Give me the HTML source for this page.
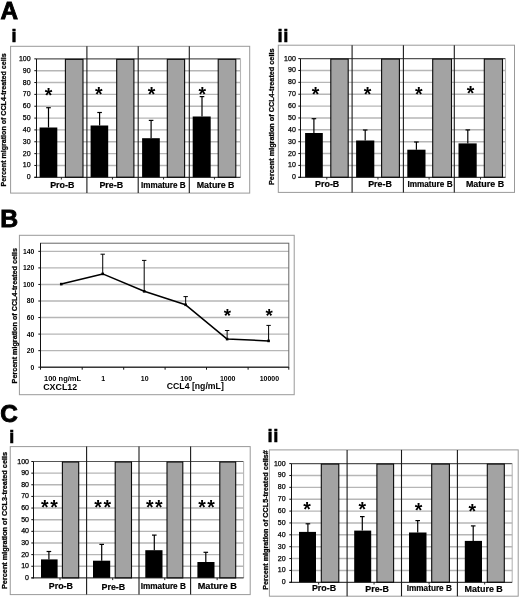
<!DOCTYPE html>
<html><head><meta charset="utf-8"><style>
html,body{margin:0;padding:0;background:#fff;width:520px;height:598px;overflow:hidden}
svg text{font-family:'Liberation Sans', sans-serif;fill:#000}
</style></head><body>
<svg width="520" height="598" viewBox="0 0 520 598" style="position:absolute;left:0;top:0;will-change:transform;filter:blur(0.35px);font-family:'Liberation Sans',sans-serif">
<rect width="520" height="598" fill="#fff"/>
<text x="0.50" y="19.00" font-size="24.3" font-weight="bold" text-anchor="start" stroke="#000" stroke-width="0.9">A</text>
<text x="0.30" y="227.10" font-size="24.8" font-weight="bold" text-anchor="start" stroke="#000" stroke-width="0.9">B</text>
<text x="0.30" y="421.90" font-size="24.3" font-weight="bold" text-anchor="start" stroke="#000" stroke-width="0.9">C</text>
<text x="11.40" y="41.60" font-size="18" font-weight="bold" text-anchor="start" stroke="#000" stroke-width="0.6">i</text>
<text x="277.40" y="41.60" font-size="18.5" font-weight="bold" text-anchor="start" letter-spacing="0.6" stroke="#000" stroke-width="0.5">ii</text>
<text x="9.20" y="442.90" font-size="18" font-weight="bold" text-anchor="start" stroke="#000" stroke-width="0.6">i</text>
<text x="267.60" y="442.00" font-size="18.5" font-weight="bold" text-anchor="start" letter-spacing="0.6" stroke="#000" stroke-width="0.5">ii</text>
<rect x="10.60" y="46.30" width="239.10" height="146.80" fill="#fff" stroke="#999" stroke-width="1"/>
<line x1="36.50" y1="165.46" x2="240.50" y2="165.46" stroke="#b6b6b6" stroke-width="1.4"/>
<line x1="36.50" y1="153.61" x2="240.50" y2="153.61" stroke="#b6b6b6" stroke-width="1.4"/>
<line x1="36.50" y1="141.76" x2="240.50" y2="141.76" stroke="#b6b6b6" stroke-width="1.4"/>
<line x1="36.50" y1="129.92" x2="240.50" y2="129.92" stroke="#b6b6b6" stroke-width="1.4"/>
<line x1="36.50" y1="118.08" x2="240.50" y2="118.08" stroke="#b6b6b6" stroke-width="1.4"/>
<line x1="36.50" y1="106.23" x2="240.50" y2="106.23" stroke="#b6b6b6" stroke-width="1.4"/>
<line x1="36.50" y1="94.38" x2="240.50" y2="94.38" stroke="#b6b6b6" stroke-width="1.4"/>
<line x1="36.50" y1="82.54" x2="240.50" y2="82.54" stroke="#b6b6b6" stroke-width="1.4"/>
<line x1="36.50" y1="70.69" x2="240.50" y2="70.69" stroke="#b6b6b6" stroke-width="1.4"/>
<line x1="36.50" y1="58.85" x2="240.50" y2="58.85" stroke="#555" stroke-width="1.1"/>
<line x1="240.50" y1="58.85" x2="240.50" y2="177.30" stroke="#b6b6b6" stroke-width="1.1"/>
<line x1="34.30" y1="177.30" x2="36.50" y2="177.30" stroke="#111" stroke-width="1"/>
<text x="30.60" y="179.30" font-size="7" font-weight="normal" text-anchor="end" stroke="#000" stroke-width="0.25">0</text>
<line x1="34.30" y1="165.46" x2="36.50" y2="165.46" stroke="#111" stroke-width="1"/>
<text x="30.60" y="167.46" font-size="7" font-weight="normal" text-anchor="end" stroke="#000" stroke-width="0.25">10</text>
<line x1="34.30" y1="153.61" x2="36.50" y2="153.61" stroke="#111" stroke-width="1"/>
<text x="30.60" y="155.61" font-size="7" font-weight="normal" text-anchor="end" stroke="#000" stroke-width="0.25">20</text>
<line x1="34.30" y1="141.76" x2="36.50" y2="141.76" stroke="#111" stroke-width="1"/>
<text x="30.60" y="143.76" font-size="7" font-weight="normal" text-anchor="end" stroke="#000" stroke-width="0.25">30</text>
<line x1="34.30" y1="129.92" x2="36.50" y2="129.92" stroke="#111" stroke-width="1"/>
<text x="30.60" y="131.92" font-size="7" font-weight="normal" text-anchor="end" stroke="#000" stroke-width="0.25">40</text>
<line x1="34.30" y1="118.08" x2="36.50" y2="118.08" stroke="#111" stroke-width="1"/>
<text x="30.60" y="120.08" font-size="7" font-weight="normal" text-anchor="end" stroke="#000" stroke-width="0.25">50</text>
<line x1="34.30" y1="106.23" x2="36.50" y2="106.23" stroke="#111" stroke-width="1"/>
<text x="30.60" y="108.23" font-size="7" font-weight="normal" text-anchor="end" stroke="#000" stroke-width="0.25">60</text>
<line x1="34.30" y1="94.38" x2="36.50" y2="94.38" stroke="#111" stroke-width="1"/>
<text x="30.60" y="96.38" font-size="7" font-weight="normal" text-anchor="end" stroke="#000" stroke-width="0.25">70</text>
<line x1="34.30" y1="82.54" x2="36.50" y2="82.54" stroke="#111" stroke-width="1"/>
<text x="30.60" y="84.54" font-size="7" font-weight="normal" text-anchor="end" stroke="#000" stroke-width="0.25">80</text>
<line x1="34.30" y1="70.69" x2="36.50" y2="70.69" stroke="#111" stroke-width="1"/>
<text x="30.60" y="72.69" font-size="7" font-weight="normal" text-anchor="end" stroke="#000" stroke-width="0.25">90</text>
<line x1="34.30" y1="58.85" x2="36.50" y2="58.85" stroke="#111" stroke-width="1"/>
<text x="30.60" y="60.85" font-size="7" font-weight="normal" text-anchor="end" stroke="#000" stroke-width="0.25">100</text>
<rect x="39.60" y="127.50" width="17.70" height="49.80" fill="#000" stroke="none" stroke-width="1"/>
<line x1="48.50" y1="107.70" x2="48.50" y2="127.50" stroke="#000" stroke-width="1.2"/>
<line x1="46.20" y1="107.70" x2="50.80" y2="107.70" stroke="#000" stroke-width="1.2"/>
<rect x="65.40" y="59.35" width="17.60" height="117.95" fill="#a3a3a3" stroke="#0a0a0a" stroke-width="1.1"/>
<line x1="61.35" y1="177.30" x2="61.35" y2="179.50" stroke="#111" stroke-width="0.9"/>
<text x="48.50" y="101.57" font-size="19.47" font-weight="bold" text-anchor="middle">*</text>
<text x="62.30" y="188.30" font-size="8.8" font-weight="bold" text-anchor="middle" textLength="24.20" lengthAdjust="spacingAndGlyphs" stroke="#000" stroke-width="0.2">Pro-B</text>
<rect x="90.60" y="125.50" width="17.60" height="51.80" fill="#000" stroke="none" stroke-width="1"/>
<line x1="99.60" y1="112.50" x2="99.60" y2="125.50" stroke="#000" stroke-width="1.2"/>
<line x1="97.30" y1="112.50" x2="101.90" y2="112.50" stroke="#000" stroke-width="1.2"/>
<rect x="116.70" y="59.35" width="17.20" height="117.95" fill="#a3a3a3" stroke="#0a0a0a" stroke-width="1.1"/>
<line x1="112.45" y1="177.30" x2="112.45" y2="179.50" stroke="#111" stroke-width="0.9"/>
<text x="98.80" y="101.37" font-size="19.47" font-weight="bold" text-anchor="middle">*</text>
<text x="111.30" y="188.30" font-size="8.8" font-weight="bold" text-anchor="middle" textLength="23.70" lengthAdjust="spacingAndGlyphs" stroke="#000" stroke-width="0.2">Pre-B</text>
<rect x="142.10" y="138.20" width="17.70" height="39.10" fill="#000" stroke="none" stroke-width="1"/>
<line x1="151.10" y1="120.40" x2="151.10" y2="138.20" stroke="#000" stroke-width="1.2"/>
<line x1="148.80" y1="120.40" x2="153.40" y2="120.40" stroke="#000" stroke-width="1.2"/>
<rect x="167.30" y="59.35" width="17.30" height="117.95" fill="#a3a3a3" stroke="#0a0a0a" stroke-width="1.1"/>
<line x1="163.55" y1="177.30" x2="163.55" y2="179.50" stroke="#111" stroke-width="0.9"/>
<text x="151.60" y="100.77" font-size="19.47" font-weight="bold" text-anchor="middle">*</text>
<text x="163.30" y="188.30" font-size="8.8" font-weight="bold" text-anchor="middle" textLength="44.70" lengthAdjust="spacingAndGlyphs" stroke="#000" stroke-width="0.2">Immature B</text>
<rect x="192.70" y="116.50" width="18.00" height="60.80" fill="#000" stroke="none" stroke-width="1"/>
<line x1="202.00" y1="96.60" x2="202.00" y2="116.50" stroke="#000" stroke-width="1.2"/>
<line x1="199.70" y1="96.60" x2="204.30" y2="96.60" stroke="#000" stroke-width="1.2"/>
<rect x="218.20" y="59.35" width="17.60" height="117.95" fill="#a3a3a3" stroke="#0a0a0a" stroke-width="1.1"/>
<line x1="214.45" y1="177.30" x2="214.45" y2="179.50" stroke="#111" stroke-width="0.9"/>
<text x="202.40" y="101.27" font-size="19.47" font-weight="bold" text-anchor="middle">*</text>
<text x="215.60" y="188.30" font-size="8.8" font-weight="bold" text-anchor="middle" textLength="37.70" lengthAdjust="spacingAndGlyphs" stroke="#000" stroke-width="0.2">Mature B</text>
<line x1="36.50" y1="58.85" x2="36.50" y2="177.80" stroke="#111" stroke-width="1"/>
<line x1="34.30" y1="177.30" x2="240.50" y2="177.30" stroke="#111" stroke-width="1"/>
<line x1="86.90" y1="46.30" x2="86.90" y2="193.10" stroke="#1a1a1a" stroke-width="1.1"/>
<line x1="138.20" y1="46.30" x2="138.20" y2="193.10" stroke="#1a1a1a" stroke-width="1.1"/>
<line x1="189.30" y1="46.30" x2="189.30" y2="193.10" stroke="#1a1a1a" stroke-width="1.1"/>
<text transform="translate(6.16,119.95) rotate(-90)" x="0" y="0" font-size="7" font-weight="bold" text-anchor="middle" textLength="133.10" lengthAdjust="spacingAndGlyphs" stroke="#000" stroke-width="0.25">Percent migration of CCL4-treated cells</text>
<rect x="278.30" y="45.20" width="236.20" height="147.20" fill="#fff" stroke="#999" stroke-width="1"/>
<line x1="300.50" y1="165.43" x2="505.50" y2="165.43" stroke="#b6b6b6" stroke-width="1.4"/>
<line x1="300.50" y1="153.56" x2="505.50" y2="153.56" stroke="#b6b6b6" stroke-width="1.4"/>
<line x1="300.50" y1="141.69" x2="505.50" y2="141.69" stroke="#b6b6b6" stroke-width="1.4"/>
<line x1="300.50" y1="129.82" x2="505.50" y2="129.82" stroke="#b6b6b6" stroke-width="1.4"/>
<line x1="300.50" y1="117.95" x2="505.50" y2="117.95" stroke="#b6b6b6" stroke-width="1.4"/>
<line x1="300.50" y1="106.08" x2="505.50" y2="106.08" stroke="#b6b6b6" stroke-width="1.4"/>
<line x1="300.50" y1="94.21" x2="505.50" y2="94.21" stroke="#b6b6b6" stroke-width="1.4"/>
<line x1="300.50" y1="82.34" x2="505.50" y2="82.34" stroke="#b6b6b6" stroke-width="1.4"/>
<line x1="300.50" y1="70.47" x2="505.50" y2="70.47" stroke="#b6b6b6" stroke-width="1.4"/>
<line x1="300.50" y1="58.60" x2="505.50" y2="58.60" stroke="#555" stroke-width="1.1"/>
<line x1="505.50" y1="58.60" x2="505.50" y2="177.30" stroke="#b6b6b6" stroke-width="1.1"/>
<line x1="298.30" y1="177.30" x2="300.50" y2="177.30" stroke="#111" stroke-width="1"/>
<text x="295.80" y="179.30" font-size="7" font-weight="normal" text-anchor="end" stroke="#000" stroke-width="0.25">0</text>
<line x1="298.30" y1="165.43" x2="300.50" y2="165.43" stroke="#111" stroke-width="1"/>
<text x="295.80" y="167.43" font-size="7" font-weight="normal" text-anchor="end" stroke="#000" stroke-width="0.25">10</text>
<line x1="298.30" y1="153.56" x2="300.50" y2="153.56" stroke="#111" stroke-width="1"/>
<text x="295.80" y="155.56" font-size="7" font-weight="normal" text-anchor="end" stroke="#000" stroke-width="0.25">20</text>
<line x1="298.30" y1="141.69" x2="300.50" y2="141.69" stroke="#111" stroke-width="1"/>
<text x="295.80" y="143.69" font-size="7" font-weight="normal" text-anchor="end" stroke="#000" stroke-width="0.25">30</text>
<line x1="298.30" y1="129.82" x2="300.50" y2="129.82" stroke="#111" stroke-width="1"/>
<text x="295.80" y="131.82" font-size="7" font-weight="normal" text-anchor="end" stroke="#000" stroke-width="0.25">40</text>
<line x1="298.30" y1="117.95" x2="300.50" y2="117.95" stroke="#111" stroke-width="1"/>
<text x="295.80" y="119.95" font-size="7" font-weight="normal" text-anchor="end" stroke="#000" stroke-width="0.25">50</text>
<line x1="298.30" y1="106.08" x2="300.50" y2="106.08" stroke="#111" stroke-width="1"/>
<text x="295.80" y="108.08" font-size="7" font-weight="normal" text-anchor="end" stroke="#000" stroke-width="0.25">60</text>
<line x1="298.30" y1="94.21" x2="300.50" y2="94.21" stroke="#111" stroke-width="1"/>
<text x="295.80" y="96.21" font-size="7" font-weight="normal" text-anchor="end" stroke="#000" stroke-width="0.25">70</text>
<line x1="298.30" y1="82.34" x2="300.50" y2="82.34" stroke="#111" stroke-width="1"/>
<text x="295.80" y="84.34" font-size="7" font-weight="normal" text-anchor="end" stroke="#000" stroke-width="0.25">80</text>
<line x1="298.30" y1="70.47" x2="300.50" y2="70.47" stroke="#111" stroke-width="1"/>
<text x="295.80" y="72.47" font-size="7" font-weight="normal" text-anchor="end" stroke="#000" stroke-width="0.25">90</text>
<line x1="298.30" y1="58.60" x2="300.50" y2="58.60" stroke="#111" stroke-width="1"/>
<text x="295.80" y="60.60" font-size="7" font-weight="normal" text-anchor="end" stroke="#000" stroke-width="0.25">100</text>
<rect x="305.10" y="133.00" width="17.70" height="44.30" fill="#000" stroke="none" stroke-width="1"/>
<line x1="313.90" y1="118.70" x2="313.90" y2="133.00" stroke="#000" stroke-width="1.2"/>
<line x1="311.60" y1="118.70" x2="316.20" y2="118.70" stroke="#000" stroke-width="1.2"/>
<rect x="330.80" y="59.10" width="17.40" height="118.20" fill="#a3a3a3" stroke="#0a0a0a" stroke-width="1.1"/>
<line x1="326.80" y1="177.30" x2="326.80" y2="179.50" stroke="#111" stroke-width="0.9"/>
<text x="315.60" y="100.97" font-size="19.47" font-weight="bold" text-anchor="middle">*</text>
<text x="327.20" y="187.20" font-size="8.8" font-weight="bold" text-anchor="middle" textLength="24.20" lengthAdjust="spacingAndGlyphs" stroke="#000" stroke-width="0.2">Pro-B</text>
<rect x="356.10" y="140.50" width="18.20" height="36.80" fill="#000" stroke="none" stroke-width="1"/>
<line x1="365.20" y1="130.00" x2="365.20" y2="140.50" stroke="#000" stroke-width="1.2"/>
<line x1="362.90" y1="130.00" x2="367.50" y2="130.00" stroke="#000" stroke-width="1.2"/>
<rect x="381.60" y="59.10" width="17.80" height="118.20" fill="#a3a3a3" stroke="#0a0a0a" stroke-width="1.1"/>
<line x1="377.95" y1="177.30" x2="377.95" y2="179.50" stroke="#111" stroke-width="0.9"/>
<text x="367.60" y="100.97" font-size="19.47" font-weight="bold" text-anchor="middle">*</text>
<text x="380.00" y="187.20" font-size="8.8" font-weight="bold" text-anchor="middle" textLength="23.70" lengthAdjust="spacingAndGlyphs" stroke="#000" stroke-width="0.2">Pre-B</text>
<rect x="407.30" y="149.70" width="18.20" height="27.60" fill="#000" stroke="none" stroke-width="1"/>
<line x1="416.40" y1="142.00" x2="416.40" y2="149.70" stroke="#000" stroke-width="1.2"/>
<line x1="414.10" y1="142.00" x2="418.70" y2="142.00" stroke="#000" stroke-width="1.2"/>
<rect x="432.70" y="59.10" width="18.80" height="118.20" fill="#a3a3a3" stroke="#0a0a0a" stroke-width="1.1"/>
<line x1="429.10" y1="177.30" x2="429.10" y2="179.50" stroke="#111" stroke-width="0.9"/>
<text x="418.70" y="100.97" font-size="19.47" font-weight="bold" text-anchor="middle">*</text>
<text x="430.00" y="187.20" font-size="8.8" font-weight="bold" text-anchor="middle" textLength="45.20" lengthAdjust="spacingAndGlyphs" stroke="#000" stroke-width="0.2">Immature B</text>
<rect x="458.50" y="143.40" width="18.20" height="33.90" fill="#000" stroke="none" stroke-width="1"/>
<line x1="467.80" y1="129.90" x2="467.80" y2="143.40" stroke="#000" stroke-width="1.2"/>
<line x1="465.50" y1="129.90" x2="470.10" y2="129.90" stroke="#000" stroke-width="1.2"/>
<rect x="484.30" y="59.10" width="18.20" height="118.20" fill="#a3a3a3" stroke="#0a0a0a" stroke-width="1.1"/>
<line x1="480.50" y1="177.30" x2="480.50" y2="179.50" stroke="#111" stroke-width="0.9"/>
<text x="470.60" y="100.47" font-size="19.47" font-weight="bold" text-anchor="middle">*</text>
<text x="485.00" y="187.20" font-size="8.8" font-weight="bold" text-anchor="middle" textLength="38.20" lengthAdjust="spacingAndGlyphs" stroke="#000" stroke-width="0.2">Mature B</text>
<line x1="300.50" y1="58.60" x2="300.50" y2="177.80" stroke="#111" stroke-width="1"/>
<line x1="298.30" y1="177.30" x2="505.50" y2="177.30" stroke="#111" stroke-width="1"/>
<line x1="352.10" y1="45.20" x2="352.10" y2="192.40" stroke="#1a1a1a" stroke-width="1.1"/>
<line x1="403.40" y1="45.20" x2="403.40" y2="192.40" stroke="#1a1a1a" stroke-width="1.1"/>
<line x1="454.30" y1="45.20" x2="454.30" y2="192.40" stroke="#1a1a1a" stroke-width="1.1"/>
<text transform="translate(273.61,116.75) rotate(-90)" x="0" y="0" font-size="7" font-weight="bold" text-anchor="middle" textLength="136.50" lengthAdjust="spacingAndGlyphs" stroke="#000" stroke-width="0.25">Percent migration of CCL4-treated cells</text>
<rect x="10.25" y="446.60" width="239.95" height="148.00" fill="#fff" stroke="#999" stroke-width="1"/>
<line x1="33.50" y1="566.26" x2="243.60" y2="566.26" stroke="#b6b6b6" stroke-width="1.4"/>
<line x1="33.50" y1="554.62" x2="243.60" y2="554.62" stroke="#b6b6b6" stroke-width="1.4"/>
<line x1="33.50" y1="542.98" x2="243.60" y2="542.98" stroke="#b6b6b6" stroke-width="1.4"/>
<line x1="33.50" y1="531.34" x2="243.60" y2="531.34" stroke="#b6b6b6" stroke-width="1.4"/>
<line x1="33.50" y1="519.70" x2="243.60" y2="519.70" stroke="#b6b6b6" stroke-width="1.4"/>
<line x1="33.50" y1="508.06" x2="243.60" y2="508.06" stroke="#b6b6b6" stroke-width="1.4"/>
<line x1="33.50" y1="496.42" x2="243.60" y2="496.42" stroke="#b6b6b6" stroke-width="1.4"/>
<line x1="33.50" y1="484.78" x2="243.60" y2="484.78" stroke="#b6b6b6" stroke-width="1.4"/>
<line x1="33.50" y1="473.14" x2="243.60" y2="473.14" stroke="#b6b6b6" stroke-width="1.4"/>
<line x1="33.50" y1="461.50" x2="243.60" y2="461.50" stroke="#555" stroke-width="1.1"/>
<line x1="243.60" y1="461.50" x2="243.60" y2="577.90" stroke="#b6b6b6" stroke-width="1.1"/>
<line x1="31.30" y1="577.90" x2="33.50" y2="577.90" stroke="#111" stroke-width="1"/>
<text x="29.00" y="579.90" font-size="7" font-weight="normal" text-anchor="end" stroke="#000" stroke-width="0.25">0</text>
<line x1="31.30" y1="566.26" x2="33.50" y2="566.26" stroke="#111" stroke-width="1"/>
<text x="29.00" y="568.26" font-size="7" font-weight="normal" text-anchor="end" stroke="#000" stroke-width="0.25">10</text>
<line x1="31.30" y1="554.62" x2="33.50" y2="554.62" stroke="#111" stroke-width="1"/>
<text x="29.00" y="556.62" font-size="7" font-weight="normal" text-anchor="end" stroke="#000" stroke-width="0.25">20</text>
<line x1="31.30" y1="542.98" x2="33.50" y2="542.98" stroke="#111" stroke-width="1"/>
<text x="29.00" y="544.98" font-size="7" font-weight="normal" text-anchor="end" stroke="#000" stroke-width="0.25">30</text>
<line x1="31.30" y1="531.34" x2="33.50" y2="531.34" stroke="#111" stroke-width="1"/>
<text x="29.00" y="533.34" font-size="7" font-weight="normal" text-anchor="end" stroke="#000" stroke-width="0.25">40</text>
<line x1="31.30" y1="519.70" x2="33.50" y2="519.70" stroke="#111" stroke-width="1"/>
<text x="29.00" y="521.70" font-size="7" font-weight="normal" text-anchor="end" stroke="#000" stroke-width="0.25">50</text>
<line x1="31.30" y1="508.06" x2="33.50" y2="508.06" stroke="#111" stroke-width="1"/>
<text x="29.00" y="510.06" font-size="7" font-weight="normal" text-anchor="end" stroke="#000" stroke-width="0.25">60</text>
<line x1="31.30" y1="496.42" x2="33.50" y2="496.42" stroke="#111" stroke-width="1"/>
<text x="29.00" y="498.42" font-size="7" font-weight="normal" text-anchor="end" stroke="#000" stroke-width="0.25">70</text>
<line x1="31.30" y1="484.78" x2="33.50" y2="484.78" stroke="#111" stroke-width="1"/>
<text x="29.00" y="486.78" font-size="7" font-weight="normal" text-anchor="end" stroke="#000" stroke-width="0.25">80</text>
<line x1="31.30" y1="473.14" x2="33.50" y2="473.14" stroke="#111" stroke-width="1"/>
<text x="29.00" y="475.14" font-size="7" font-weight="normal" text-anchor="end" stroke="#000" stroke-width="0.25">90</text>
<line x1="31.30" y1="461.50" x2="33.50" y2="461.50" stroke="#111" stroke-width="1"/>
<text x="29.00" y="463.50" font-size="7" font-weight="normal" text-anchor="end" stroke="#000" stroke-width="0.25">100</text>
<rect x="41.00" y="559.40" width="16.60" height="18.50" fill="#000" stroke="none" stroke-width="1"/>
<line x1="48.90" y1="551.50" x2="48.90" y2="559.40" stroke="#000" stroke-width="1.2"/>
<line x1="46.60" y1="551.50" x2="51.20" y2="551.50" stroke="#000" stroke-width="1.2"/>
<rect x="62.40" y="462.00" width="16.30" height="115.90" fill="#a3a3a3" stroke="#0a0a0a" stroke-width="1.1"/>
<line x1="60.00" y1="577.90" x2="60.00" y2="580.10" stroke="#111" stroke-width="0.9"/>
<text x="44.85" y="514.27" font-size="19.47" font-weight="bold" text-anchor="middle">*</text>
<text x="53.95" y="514.27" font-size="19.47" font-weight="bold" text-anchor="middle">*</text>
<text x="60.90" y="588.50" font-size="8.8" font-weight="bold" text-anchor="middle" textLength="24.20" lengthAdjust="spacingAndGlyphs" stroke="#000" stroke-width="0.2">Pro-B</text>
<rect x="93.00" y="560.70" width="17.20" height="17.20" fill="#000" stroke="none" stroke-width="1"/>
<line x1="101.70" y1="544.40" x2="101.70" y2="560.70" stroke="#000" stroke-width="1.2"/>
<line x1="99.40" y1="544.40" x2="104.00" y2="544.40" stroke="#000" stroke-width="1.2"/>
<rect x="115.20" y="462.00" width="16.30" height="115.90" fill="#a3a3a3" stroke="#0a0a0a" stroke-width="1.1"/>
<line x1="112.70" y1="577.90" x2="112.70" y2="580.10" stroke="#111" stroke-width="0.9"/>
<text x="98.15" y="514.37" font-size="19.47" font-weight="bold" text-anchor="middle">*</text>
<text x="107.25" y="514.37" font-size="19.47" font-weight="bold" text-anchor="middle">*</text>
<text x="113.40" y="590.00" font-size="8.8" font-weight="bold" text-anchor="middle" textLength="23.70" lengthAdjust="spacingAndGlyphs" stroke="#000" stroke-width="0.2">Pre-B</text>
<rect x="145.30" y="550.20" width="17.20" height="27.70" fill="#000" stroke="none" stroke-width="1"/>
<line x1="154.30" y1="535.10" x2="154.30" y2="550.20" stroke="#000" stroke-width="1.2"/>
<line x1="152.00" y1="535.10" x2="156.60" y2="535.10" stroke="#000" stroke-width="1.2"/>
<rect x="167.00" y="462.00" width="15.80" height="115.90" fill="#a3a3a3" stroke="#0a0a0a" stroke-width="1.1"/>
<line x1="164.75" y1="577.90" x2="164.75" y2="580.10" stroke="#111" stroke-width="0.9"/>
<text x="149.75" y="514.27" font-size="19.47" font-weight="bold" text-anchor="middle">*</text>
<text x="158.85" y="514.27" font-size="19.47" font-weight="bold" text-anchor="middle">*</text>
<text x="163.30" y="589.00" font-size="8.8" font-weight="bold" text-anchor="middle" textLength="45.20" lengthAdjust="spacingAndGlyphs" stroke="#000" stroke-width="0.2">Immature B</text>
<rect x="197.40" y="562.00" width="17.10" height="15.90" fill="#000" stroke="none" stroke-width="1"/>
<line x1="205.80" y1="552.30" x2="205.80" y2="562.00" stroke="#000" stroke-width="1.2"/>
<line x1="203.50" y1="552.30" x2="208.10" y2="552.30" stroke="#000" stroke-width="1.2"/>
<rect x="219.80" y="462.00" width="15.90" height="115.90" fill="#a3a3a3" stroke="#0a0a0a" stroke-width="1.1"/>
<line x1="217.15" y1="577.90" x2="217.15" y2="580.10" stroke="#111" stroke-width="0.9"/>
<text x="202.05" y="514.27" font-size="19.47" font-weight="bold" text-anchor="middle">*</text>
<text x="211.15" y="514.27" font-size="19.47" font-weight="bold" text-anchor="middle">*</text>
<text x="217.30" y="588.90" font-size="8.8" font-weight="bold" text-anchor="middle" textLength="39.20" lengthAdjust="spacingAndGlyphs" stroke="#000" stroke-width="0.2">Mature B</text>
<line x1="33.50" y1="461.50" x2="33.50" y2="578.40" stroke="#111" stroke-width="1"/>
<line x1="31.30" y1="577.90" x2="243.60" y2="577.90" stroke="#111" stroke-width="1"/>
<line x1="86.60" y1="446.60" x2="86.60" y2="594.60" stroke="#1a1a1a" stroke-width="1.1"/>
<line x1="139.00" y1="446.60" x2="139.00" y2="594.60" stroke="#1a1a1a" stroke-width="1.1"/>
<line x1="190.60" y1="446.60" x2="190.60" y2="594.60" stroke="#1a1a1a" stroke-width="1.1"/>
<text transform="translate(6.81,520.45) rotate(-90)" x="0" y="0" font-size="7" font-weight="bold" text-anchor="middle" textLength="137.10" lengthAdjust="spacingAndGlyphs" stroke="#000" stroke-width="0.25">Percent migration of CCL3-treated cells</text>
<rect x="269.40" y="449.90" width="248.80" height="146.30" fill="#fff" stroke="#999" stroke-width="1"/>
<line x1="291.50" y1="570.43" x2="512.20" y2="570.43" stroke="#b6b6b6" stroke-width="1.4"/>
<line x1="291.50" y1="558.56" x2="512.20" y2="558.56" stroke="#b6b6b6" stroke-width="1.4"/>
<line x1="291.50" y1="546.69" x2="512.20" y2="546.69" stroke="#b6b6b6" stroke-width="1.4"/>
<line x1="291.50" y1="534.82" x2="512.20" y2="534.82" stroke="#b6b6b6" stroke-width="1.4"/>
<line x1="291.50" y1="522.95" x2="512.20" y2="522.95" stroke="#b6b6b6" stroke-width="1.4"/>
<line x1="291.50" y1="511.08" x2="512.20" y2="511.08" stroke="#b6b6b6" stroke-width="1.4"/>
<line x1="291.50" y1="499.21" x2="512.20" y2="499.21" stroke="#b6b6b6" stroke-width="1.4"/>
<line x1="291.50" y1="487.34" x2="512.20" y2="487.34" stroke="#b6b6b6" stroke-width="1.4"/>
<line x1="291.50" y1="475.47" x2="512.20" y2="475.47" stroke="#b6b6b6" stroke-width="1.4"/>
<line x1="291.50" y1="463.60" x2="512.20" y2="463.60" stroke="#555" stroke-width="1.1"/>
<line x1="512.20" y1="463.60" x2="512.20" y2="582.30" stroke="#b6b6b6" stroke-width="1.1"/>
<line x1="289.30" y1="582.30" x2="291.50" y2="582.30" stroke="#111" stroke-width="1"/>
<text x="285.60" y="584.30" font-size="7" font-weight="normal" text-anchor="end" stroke="#000" stroke-width="0.25">0</text>
<line x1="289.30" y1="570.43" x2="291.50" y2="570.43" stroke="#111" stroke-width="1"/>
<text x="285.60" y="572.43" font-size="7" font-weight="normal" text-anchor="end" stroke="#000" stroke-width="0.25">10</text>
<line x1="289.30" y1="558.56" x2="291.50" y2="558.56" stroke="#111" stroke-width="1"/>
<text x="285.60" y="560.56" font-size="7" font-weight="normal" text-anchor="end" stroke="#000" stroke-width="0.25">20</text>
<line x1="289.30" y1="546.69" x2="291.50" y2="546.69" stroke="#111" stroke-width="1"/>
<text x="285.60" y="548.69" font-size="7" font-weight="normal" text-anchor="end" stroke="#000" stroke-width="0.25">30</text>
<line x1="289.30" y1="534.82" x2="291.50" y2="534.82" stroke="#111" stroke-width="1"/>
<text x="285.60" y="536.82" font-size="7" font-weight="normal" text-anchor="end" stroke="#000" stroke-width="0.25">40</text>
<line x1="289.30" y1="522.95" x2="291.50" y2="522.95" stroke="#111" stroke-width="1"/>
<text x="285.60" y="524.95" font-size="7" font-weight="normal" text-anchor="end" stroke="#000" stroke-width="0.25">50</text>
<line x1="289.30" y1="511.08" x2="291.50" y2="511.08" stroke="#111" stroke-width="1"/>
<text x="285.60" y="513.08" font-size="7" font-weight="normal" text-anchor="end" stroke="#000" stroke-width="0.25">60</text>
<line x1="289.30" y1="499.21" x2="291.50" y2="499.21" stroke="#111" stroke-width="1"/>
<text x="285.60" y="501.21" font-size="7" font-weight="normal" text-anchor="end" stroke="#000" stroke-width="0.25">70</text>
<line x1="289.30" y1="487.34" x2="291.50" y2="487.34" stroke="#111" stroke-width="1"/>
<text x="285.60" y="489.34" font-size="7" font-weight="normal" text-anchor="end" stroke="#000" stroke-width="0.25">80</text>
<line x1="289.30" y1="475.47" x2="291.50" y2="475.47" stroke="#111" stroke-width="1"/>
<text x="285.60" y="477.47" font-size="7" font-weight="normal" text-anchor="end" stroke="#000" stroke-width="0.25">90</text>
<line x1="289.30" y1="463.60" x2="291.50" y2="463.60" stroke="#111" stroke-width="1"/>
<text x="285.60" y="465.60" font-size="7" font-weight="normal" text-anchor="end" stroke="#000" stroke-width="0.25">100</text>
<rect x="299.00" y="531.90" width="17.00" height="50.40" fill="#000" stroke="none" stroke-width="1"/>
<line x1="307.90" y1="523.80" x2="307.90" y2="531.90" stroke="#000" stroke-width="1.2"/>
<line x1="305.60" y1="523.80" x2="310.20" y2="523.80" stroke="#000" stroke-width="1.2"/>
<rect x="321.30" y="464.10" width="17.50" height="118.20" fill="#a3a3a3" stroke="#0a0a0a" stroke-width="1.1"/>
<line x1="318.65" y1="582.30" x2="318.65" y2="584.50" stroke="#111" stroke-width="0.9"/>
<text x="307.10" y="516.37" font-size="19.47" font-weight="bold" text-anchor="middle">*</text>
<text x="324.00" y="591.20" font-size="8.8" font-weight="bold" text-anchor="middle" textLength="24.20" lengthAdjust="spacingAndGlyphs" stroke="#000" stroke-width="0.2">Pro-B</text>
<rect x="354.20" y="530.60" width="17.00" height="51.70" fill="#000" stroke="none" stroke-width="1"/>
<line x1="362.30" y1="516.60" x2="362.30" y2="530.60" stroke="#000" stroke-width="1.2"/>
<line x1="360.00" y1="516.60" x2="364.60" y2="516.60" stroke="#000" stroke-width="1.2"/>
<rect x="376.90" y="464.10" width="16.70" height="118.20" fill="#a3a3a3" stroke="#0a0a0a" stroke-width="1.1"/>
<line x1="374.05" y1="582.30" x2="374.05" y2="584.50" stroke="#111" stroke-width="0.9"/>
<text x="362.30" y="516.37" font-size="19.47" font-weight="bold" text-anchor="middle">*</text>
<text x="377.10" y="592.40" font-size="8.8" font-weight="bold" text-anchor="middle" textLength="23.70" lengthAdjust="spacingAndGlyphs" stroke="#000" stroke-width="0.2">Pre-B</text>
<rect x="409.00" y="532.50" width="17.50" height="49.80" fill="#000" stroke="none" stroke-width="1"/>
<line x1="417.70" y1="520.60" x2="417.70" y2="532.50" stroke="#000" stroke-width="1.2"/>
<line x1="415.40" y1="520.60" x2="420.00" y2="520.60" stroke="#000" stroke-width="1.2"/>
<rect x="431.70" y="464.10" width="17.70" height="118.20" fill="#a3a3a3" stroke="#0a0a0a" stroke-width="1.1"/>
<line x1="429.10" y1="582.30" x2="429.10" y2="584.50" stroke="#111" stroke-width="0.9"/>
<text x="418.50" y="516.87" font-size="19.47" font-weight="bold" text-anchor="middle">*</text>
<text x="429.30" y="590.50" font-size="8.8" font-weight="bold" text-anchor="middle" textLength="45.20" lengthAdjust="spacingAndGlyphs" stroke="#000" stroke-width="0.2">Immature B</text>
<rect x="464.80" y="540.90" width="17.20" height="41.40" fill="#000" stroke="none" stroke-width="1"/>
<line x1="473.20" y1="525.90" x2="473.20" y2="540.90" stroke="#000" stroke-width="1.2"/>
<line x1="470.90" y1="525.90" x2="475.50" y2="525.90" stroke="#000" stroke-width="1.2"/>
<rect x="487.30" y="464.10" width="17.00" height="118.20" fill="#a3a3a3" stroke="#0a0a0a" stroke-width="1.1"/>
<line x1="484.65" y1="582.30" x2="484.65" y2="584.50" stroke="#111" stroke-width="0.9"/>
<text x="472.40" y="518.27" font-size="19.47" font-weight="bold" text-anchor="middle">*</text>
<text x="483.70" y="591.80" font-size="8.8" font-weight="bold" text-anchor="middle" textLength="38.20" lengthAdjust="spacingAndGlyphs" stroke="#000" stroke-width="0.2">Mature B</text>
<line x1="291.50" y1="463.60" x2="291.50" y2="582.80" stroke="#111" stroke-width="1"/>
<line x1="289.30" y1="582.30" x2="512.20" y2="582.30" stroke="#111" stroke-width="1"/>
<line x1="347.10" y1="449.90" x2="347.10" y2="596.20" stroke="#1a1a1a" stroke-width="1.1"/>
<line x1="401.50" y1="449.90" x2="401.50" y2="596.20" stroke="#1a1a1a" stroke-width="1.1"/>
<line x1="457.40" y1="449.90" x2="457.40" y2="596.20" stroke="#1a1a1a" stroke-width="1.1"/>
<text transform="translate(267.61,520.05) rotate(-90)" x="0" y="0" font-size="7" font-weight="bold" text-anchor="middle" textLength="139.50" lengthAdjust="spacingAndGlyphs" stroke="#000" stroke-width="0.25">Percent migration of CCL5-treated cells#</text>
<rect x="19.40" y="235.30" width="274.80" height="159.40" fill="#fff" stroke="#999" stroke-width="1"/>
<line x1="40.50" y1="350.65" x2="288.80" y2="350.65" stroke="#b6b6b6" stroke-width="1.4"/>
<line x1="40.50" y1="334.10" x2="288.80" y2="334.10" stroke="#b6b6b6" stroke-width="1.4"/>
<line x1="40.50" y1="317.55" x2="288.80" y2="317.55" stroke="#b6b6b6" stroke-width="1.4"/>
<line x1="40.50" y1="301.00" x2="288.80" y2="301.00" stroke="#b6b6b6" stroke-width="1.4"/>
<line x1="40.50" y1="284.45" x2="288.80" y2="284.45" stroke="#b6b6b6" stroke-width="1.4"/>
<line x1="40.50" y1="267.90" x2="288.80" y2="267.90" stroke="#b6b6b6" stroke-width="1.4"/>
<line x1="40.50" y1="251.35" x2="288.80" y2="251.35" stroke="#b6b6b6" stroke-width="1.4"/>
<rect x="40.50" y="243.20" width="248.30" height="124.00" fill="none" stroke="#666" stroke-width="1"/>
<line x1="38.30" y1="367.20" x2="40.50" y2="367.20" stroke="#111" stroke-width="1"/>
<text x="34.40" y="369.60" font-size="6.8" font-weight="bold" text-anchor="end">0</text>
<line x1="38.30" y1="350.65" x2="40.50" y2="350.65" stroke="#111" stroke-width="1"/>
<text x="34.40" y="353.05" font-size="6.8" font-weight="bold" text-anchor="end">20</text>
<line x1="38.30" y1="334.10" x2="40.50" y2="334.10" stroke="#111" stroke-width="1"/>
<text x="34.40" y="336.50" font-size="6.8" font-weight="bold" text-anchor="end">40</text>
<line x1="38.30" y1="317.55" x2="40.50" y2="317.55" stroke="#111" stroke-width="1"/>
<text x="34.40" y="319.95" font-size="6.8" font-weight="bold" text-anchor="end">60</text>
<line x1="38.30" y1="301.00" x2="40.50" y2="301.00" stroke="#111" stroke-width="1"/>
<text x="34.40" y="303.40" font-size="6.8" font-weight="bold" text-anchor="end">80</text>
<line x1="38.30" y1="284.45" x2="40.50" y2="284.45" stroke="#111" stroke-width="1"/>
<text x="34.40" y="286.85" font-size="6.8" font-weight="bold" text-anchor="end">100</text>
<line x1="38.30" y1="267.90" x2="40.50" y2="267.90" stroke="#111" stroke-width="1"/>
<text x="34.40" y="270.30" font-size="6.8" font-weight="bold" text-anchor="end">120</text>
<line x1="38.30" y1="251.35" x2="40.50" y2="251.35" stroke="#111" stroke-width="1"/>
<text x="34.40" y="253.75" font-size="6.8" font-weight="bold" text-anchor="end">140</text>
<line x1="40.50" y1="367.20" x2="40.50" y2="369.70" stroke="#111" stroke-width="1"/>
<line x1="82.20" y1="367.20" x2="82.20" y2="369.70" stroke="#111" stroke-width="1"/>
<line x1="123.70" y1="367.20" x2="123.70" y2="369.70" stroke="#111" stroke-width="1"/>
<line x1="165.10" y1="367.20" x2="165.10" y2="369.70" stroke="#111" stroke-width="1"/>
<line x1="206.50" y1="367.20" x2="206.50" y2="369.70" stroke="#111" stroke-width="1"/>
<line x1="248.10" y1="367.20" x2="248.10" y2="369.70" stroke="#111" stroke-width="1"/>
<line x1="288.80" y1="367.20" x2="288.80" y2="369.70" stroke="#111" stroke-width="1"/>
<line x1="40.50" y1="243.20" x2="40.50" y2="367.20" stroke="#111" stroke-width="1"/>
<line x1="40.50" y1="367.20" x2="288.80" y2="367.20" stroke="#111" stroke-width="1"/>
<line x1="102.72" y1="254.20" x2="102.72" y2="273.90" stroke="#000" stroke-width="1"/>
<line x1="100.52" y1="254.20" x2="104.92" y2="254.20" stroke="#000" stroke-width="1"/>
<line x1="144.19" y1="260.40" x2="144.19" y2="291.30" stroke="#000" stroke-width="1"/>
<line x1="141.99" y1="260.40" x2="146.39" y2="260.40" stroke="#000" stroke-width="1"/>
<line x1="185.66" y1="296.60" x2="185.66" y2="304.80" stroke="#000" stroke-width="1"/>
<line x1="183.46" y1="296.60" x2="187.86" y2="296.60" stroke="#000" stroke-width="1"/>
<line x1="227.13" y1="330.50" x2="227.13" y2="339.10" stroke="#000" stroke-width="1"/>
<line x1="224.93" y1="330.50" x2="229.33" y2="330.50" stroke="#000" stroke-width="1"/>
<line x1="268.60" y1="325.40" x2="268.60" y2="340.90" stroke="#000" stroke-width="1"/>
<line x1="266.40" y1="325.40" x2="270.80" y2="325.40" stroke="#000" stroke-width="1"/>
<polyline points="61.25,284.10 102.72,273.90 144.19,291.30 185.66,304.80 227.13,339.10 268.60,340.90" fill="none" stroke="#000" stroke-width="1.5" stroke-linejoin="round"/>
<rect x="59.95" y="282.80" width="2.60" height="2.60" fill="#000" stroke="none" stroke-width="1"/>
<rect x="101.42" y="272.60" width="2.60" height="2.60" fill="#000" stroke="none" stroke-width="1"/>
<rect x="142.89" y="290.00" width="2.60" height="2.60" fill="#000" stroke="none" stroke-width="1"/>
<rect x="184.36" y="303.50" width="2.60" height="2.60" fill="#000" stroke="none" stroke-width="1"/>
<rect x="225.83" y="337.80" width="2.60" height="2.60" fill="#000" stroke="none" stroke-width="1"/>
<rect x="267.30" y="339.60" width="2.60" height="2.60" fill="#000" stroke="none" stroke-width="1"/>
<text x="227.40" y="321.88" font-size="18.69" font-weight="bold" text-anchor="middle">*</text>
<text x="269.20" y="321.88" font-size="18.69" font-weight="bold" text-anchor="middle">*</text>
<text x="62.50" y="381.00" font-size="7" font-weight="bold" text-anchor="middle" textLength="37.00" lengthAdjust="spacingAndGlyphs">100 ng/mL</text>
<text x="60.20" y="390.00" font-size="9.3" font-weight="bold" text-anchor="middle" textLength="34.00" lengthAdjust="spacingAndGlyphs">CXCL12</text>
<text x="103.20" y="381.00" font-size="7" font-weight="bold" text-anchor="middle">1</text>
<text x="144.70" y="381.00" font-size="7" font-weight="bold" text-anchor="middle">10</text>
<text x="186.20" y="381.00" font-size="7" font-weight="bold" text-anchor="middle">100</text>
<text x="227.70" y="381.00" font-size="7" font-weight="bold" text-anchor="middle">1000</text>
<text x="269.40" y="381.00" font-size="7" font-weight="bold" text-anchor="middle">10000</text>
<text x="195.30" y="389.30" font-size="8.6" font-weight="bold" text-anchor="middle" textLength="57.00" lengthAdjust="spacingAndGlyphs">CCL4 [ng/mL]</text>
<text transform="translate(17.11,315.70) rotate(-90)" x="0" y="0" font-size="7" font-weight="bold" text-anchor="middle" textLength="135.40" lengthAdjust="spacingAndGlyphs" stroke="#000" stroke-width="0.25">Percent migration of CCL4-treated cells</text>
</svg>
</body></html>
